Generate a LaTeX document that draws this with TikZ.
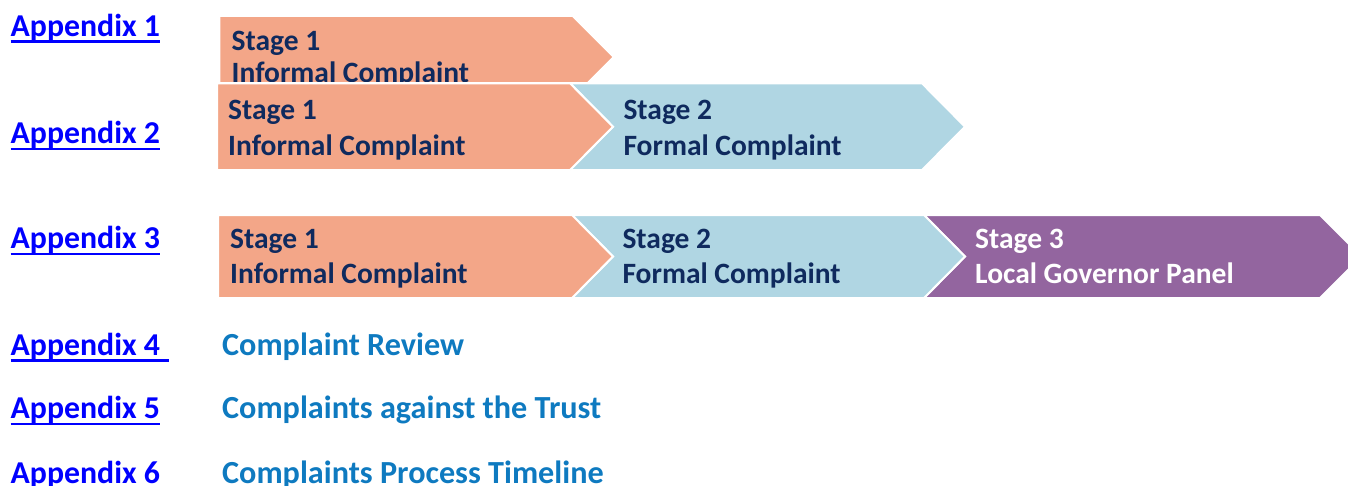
\documentclass[tikz,border=0pt]{standalone}
\usepackage{fontspec}
\setmainfont{Carlito}
\definecolor{StageOne}{HTML}{F3A688}
\definecolor{StageTwo}{HTML}{B0D6E3}
\definecolor{StageThree}{HTML}{93659F}
\definecolor{NavyText}{HTML}{0F2A5E}
\definecolor{LinkBlue}{HTML}{0000FF}
\definecolor{TitleBlue}{HTML}{0E7AC0}

\begin{document}
\begin{tikzpicture}[x=1pt,y=-1pt,
  applink/.style={anchor=base west,inner sep=0pt,text=LinkBlue,
    font=\fontsize{31.8}{37}\selectfont\bfseries},
  apptitle/.style={anchor=base west,inner sep=0pt,text=TitleBlue,
    font=\fontsize{32.2}{37}\selectfont\bfseries},
  stagetext/.style={anchor=base west,inner sep=0pt,text=NavyText,
    font=\fontsize{29.5}{35}\selectfont\bfseries},
  uline/.style={LinkBlue,line width=2.3pt}]
  \clip (0,0) rectangle (1348,485);

  % Appendix links down the left side
  \node[applink] (a1) at (10.5,36) {Appendix 1};
  \node[applink] (a2) at (10.5,143.3) {Appendix 2};
  \node[applink] (a3) at (10.5,248.3) {Appendix 3};
  \node[applink] (a4) at (10.5,355) {Appendix 4};
  \node[applink] (a5) at (10.5,418.3) {Appendix 5};
  \node[applink] (a6) at (10.5,483) {Appendix 6};
  \foreach \n in {a1,a2,a3,a5,a6}
    \draw[uline] ([yshift=-5.5pt]\n.base west) -- ([yshift=-5.5pt]\n.base east);
  \draw[uline] ([yshift=-5.5pt]a4.base west) -- ([yshift=-5.5pt,xshift=9pt]a4.base east);

  % Row 1: Stage 1 only (cut off at the bottom)
  \begin{scope}
    \clip (0,0) rectangle (1348,81);
    \draw[fill=StageOne,draw=white,line width=1.5pt]
      (219.5,16) -- (572.5,16) -- (613.5,57) -- (572.5,98) -- (219.5,98) -- cycle;
    \node[stagetext] (r1s1) at (231.5,50.7) {Stage 1};
    \node[stagetext] (r1s1b) at (231.5,82.5) {Informal Complaint};
  \end{scope}

  % Row 2: Stage 1 and Stage 2
  \draw[fill=StageTwo,draw=white,line width=2pt]
    (570,83.3) -- (922,83.3) -- (965,126.7) -- (922,170) -- (570,170) -- (613,126.7) -- cycle;
  \draw[fill=StageOne,draw=white,line width=2pt]
    (217,83.3) -- (570,83.3) -- (613,126.7) -- (570,170) -- (217,170) -- cycle;
  \node[stagetext] (r2s1) at (228,119.3) {Stage 1};
  \node[stagetext] (r2s1b) at (228,155) {Informal Complaint};
  \node[stagetext] (r2s2) at (623.3,119.3) {Stage 2};
  \node[stagetext] (r2s2b) at (623.3,155) {Formal Complaint};

  % Row 3: Stage 1, Stage 2 and Stage 3
  \draw[fill=StageThree,draw=white,line width=2pt]
    (924,215) -- (1320,215) -- (1361.5,256.5) -- (1320,298) -- (924,298) -- (965,256.5) -- cycle;
  \draw[fill=StageTwo,draw=white,line width=2pt]
    (572,215) -- (924,215) -- (965,256.5) -- (924,298) -- (572,298) -- (613,256.5) -- cycle;
  \draw[fill=StageOne,draw=white,line width=2pt]
    (218,215) -- (572,215) -- (613,256.5) -- (572,298) -- (218,298) -- cycle;
  \node[stagetext] (r3s1) at (230,248) {Stage 1};
  \node[stagetext] (r3s1b) at (230,283.5) {Informal Complaint};
  \node[stagetext] (r3s2) at (622.3,248) {Stage 2};
  \node[stagetext] (r3s2b) at (622.3,283.5) {Formal Complaint};
  \node[stagetext,text=white] (r3s3) at (975,248) {Stage 3};
  \node[stagetext,text=white] (r3s3b) at (975,283.5) {Local Governor Panel};

  % Titles for the last three appendices
  \node[apptitle] (t4) at (222,355) {Complaint Review};
  \node[apptitle] (t5) at (222,418.3) {Complaints against the Trust};
  \node[apptitle] (t6) at (222,483) {Complaints Process Timeline};
\end{tikzpicture}
\end{document}
